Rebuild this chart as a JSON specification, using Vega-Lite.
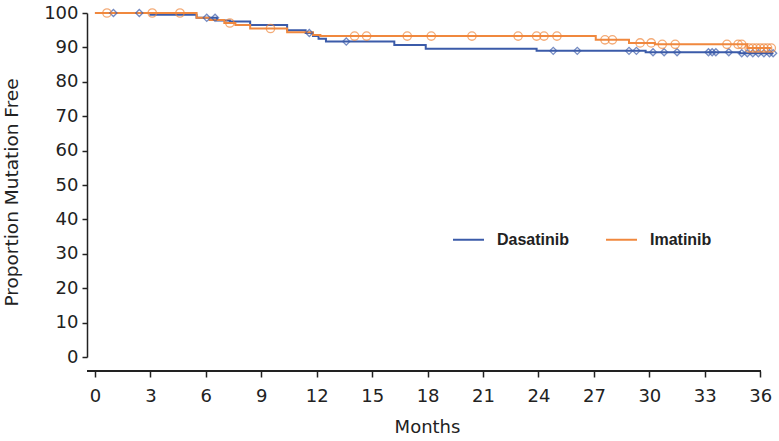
{
  "$schema": "https://vega.github.io/schema/vega-lite/v6.json",
  "width": 688,
  "height": 344,
  "autosize": {"type": "none"},
  "padding": {"left": 87, "top": 13, "right": 4, "bottom": 84},
  "background": "white",
  "config": {
    "view": {"stroke": null},
    "font": "DejaVu Sans",
    "axis": {"domainColor": "#222", "tickColor": "#222", "domainWidth": 1.5, "tickWidth": 1.5, "labelColor": "#222", "titleColor": "#222", "grid": false, "labelFont": "DejaVu Sans", "titleFont": "DejaVu Sans", "titleFontWeight": "normal", "labelFontSize": 18, "titleFontSize": 18, "labelOverlap": false}
  },
  "data": {
    "values": [
      {"g": "Dasatinib", "t": 0, "s": 100, "c": 0},
      {"g": "Dasatinib", "t": 1.0, "s": 100, "c": 1},
      {"g": "Dasatinib", "t": 2.4, "s": 100, "c": 1},
      {"g": "Dasatinib", "t": 3.0, "s": 99.5, "c": 0},
      {"g": "Dasatinib", "t": 5.5, "s": 98.6, "c": 0},
      {"g": "Dasatinib", "t": 6.05, "s": 98.6, "c": 1},
      {"g": "Dasatinib", "t": 6.5, "s": 98.6, "c": 1},
      {"g": "Dasatinib", "t": 6.6, "s": 97.8, "c": 0},
      {"g": "Dasatinib", "t": 7.3, "s": 97.5, "c": 0},
      {"g": "Dasatinib", "t": 8.4, "s": 96.5, "c": 0},
      {"g": "Dasatinib", "t": 10.4, "s": 95.0, "c": 0},
      {"g": "Dasatinib", "t": 11.4, "s": 94.2, "c": 0},
      {"g": "Dasatinib", "t": 11.6, "s": 94.2, "c": 1},
      {"g": "Dasatinib", "t": 11.8, "s": 93.3, "c": 0},
      {"g": "Dasatinib", "t": 12.1, "s": 92.5, "c": 0},
      {"g": "Dasatinib", "t": 12.5, "s": 91.7, "c": 0},
      {"g": "Dasatinib", "t": 13.6, "s": 91.7, "c": 1},
      {"g": "Dasatinib", "t": 16.2, "s": 90.7, "c": 0},
      {"g": "Dasatinib", "t": 17.9, "s": 89.6, "c": 0},
      {"g": "Dasatinib", "t": 23.9, "s": 89.0, "c": 0},
      {"g": "Dasatinib", "t": 24.8, "s": 89.0, "c": 1},
      {"g": "Dasatinib", "t": 26.1, "s": 89.0, "c": 1},
      {"g": "Dasatinib", "t": 28.9, "s": 89.0, "c": 1},
      {"g": "Dasatinib", "t": 29.3, "s": 89.0, "c": 1},
      {"g": "Dasatinib", "t": 29.8, "s": 88.6, "c": 0},
      {"g": "Dasatinib", "t": 30.2, "s": 88.6, "c": 1},
      {"g": "Dasatinib", "t": 30.8, "s": 88.6, "c": 1},
      {"g": "Dasatinib", "t": 31.5, "s": 88.6, "c": 1},
      {"g": "Dasatinib", "t": 33.2, "s": 88.6, "c": 1},
      {"g": "Dasatinib", "t": 33.4, "s": 88.6, "c": 1},
      {"g": "Dasatinib", "t": 33.6, "s": 88.6, "c": 1},
      {"g": "Dasatinib", "t": 34.3, "s": 88.6, "c": 1},
      {"g": "Dasatinib", "t": 34.9, "s": 88.3, "c": 0},
      {"g": "Dasatinib", "t": 35.0, "s": 88.3, "c": 1},
      {"g": "Dasatinib", "t": 35.3, "s": 88.3, "c": 1},
      {"g": "Dasatinib", "t": 35.6, "s": 88.3, "c": 1},
      {"g": "Dasatinib", "t": 35.9, "s": 88.3, "c": 1},
      {"g": "Dasatinib", "t": 36.2, "s": 88.3, "c": 1},
      {"g": "Dasatinib", "t": 36.5, "s": 88.3, "c": 1},
      {"g": "Dasatinib", "t": 36.7, "s": 88.3, "c": 1},
      {"g": "Imatinib", "t": 0, "s": 100, "c": 0},
      {"g": "Imatinib", "t": 0.65, "s": 100, "c": 1},
      {"g": "Imatinib", "t": 3.1, "s": 100, "c": 1},
      {"g": "Imatinib", "t": 4.6, "s": 100, "c": 1},
      {"g": "Imatinib", "t": 5.5, "s": 98.6, "c": 0},
      {"g": "Imatinib", "t": 6.2, "s": 98.0, "c": 0},
      {"g": "Imatinib", "t": 7.0, "s": 97.1, "c": 0},
      {"g": "Imatinib", "t": 7.3, "s": 97.1, "c": 1},
      {"g": "Imatinib", "t": 7.6, "s": 96.5, "c": 0},
      {"g": "Imatinib", "t": 8.4, "s": 95.5, "c": 0},
      {"g": "Imatinib", "t": 9.5, "s": 95.5, "c": 1},
      {"g": "Imatinib", "t": 10.4, "s": 94.4, "c": 0},
      {"g": "Imatinib", "t": 11.8, "s": 93.6, "c": 0},
      {"g": "Imatinib", "t": 12.2, "s": 93.3, "c": 0},
      {"g": "Imatinib", "t": 14.05, "s": 93.3, "c": 1},
      {"g": "Imatinib", "t": 14.7, "s": 93.3, "c": 1},
      {"g": "Imatinib", "t": 16.9, "s": 93.3, "c": 1},
      {"g": "Imatinib", "t": 18.2, "s": 93.3, "c": 1},
      {"g": "Imatinib", "t": 20.4, "s": 93.3, "c": 1},
      {"g": "Imatinib", "t": 22.9, "s": 93.3, "c": 1},
      {"g": "Imatinib", "t": 23.9, "s": 93.3, "c": 1},
      {"g": "Imatinib", "t": 24.3, "s": 93.3, "c": 1},
      {"g": "Imatinib", "t": 25.0, "s": 93.3, "c": 1},
      {"g": "Imatinib", "t": 27.1, "s": 92.2, "c": 0},
      {"g": "Imatinib", "t": 27.6, "s": 92.2, "c": 1},
      {"g": "Imatinib", "t": 28.0, "s": 92.2, "c": 1},
      {"g": "Imatinib", "t": 28.9, "s": 91.3, "c": 0},
      {"g": "Imatinib", "t": 29.5, "s": 91.3, "c": 1},
      {"g": "Imatinib", "t": 30.1, "s": 91.3, "c": 1},
      {"g": "Imatinib", "t": 30.3, "s": 90.9, "c": 0},
      {"g": "Imatinib", "t": 30.7, "s": 90.9, "c": 1},
      {"g": "Imatinib", "t": 31.4, "s": 90.9, "c": 1},
      {"g": "Imatinib", "t": 34.2, "s": 90.9, "c": 1},
      {"g": "Imatinib", "t": 34.8, "s": 90.9, "c": 1},
      {"g": "Imatinib", "t": 35.0, "s": 90.9, "c": 1},
      {"g": "Imatinib", "t": 35.3, "s": 89.8, "c": 0},
      {"g": "Imatinib", "t": 35.4, "s": 89.8, "c": 1},
      {"g": "Imatinib", "t": 35.6, "s": 89.8, "c": 1},
      {"g": "Imatinib", "t": 35.8, "s": 89.8, "c": 1},
      {"g": "Imatinib", "t": 36.0, "s": 89.8, "c": 1},
      {"g": "Imatinib", "t": 36.2, "s": 89.8, "c": 1},
      {"g": "Imatinib", "t": 36.4, "s": 89.8, "c": 1},
      {"g": "Imatinib", "t": 36.6, "s": 89.8, "c": 1}
    ]
  },
  "layer": [
    {
      "mark": {"type": "line", "interpolate": "step-after", "strokeWidth": 2},
      "encoding": {
        "x": {
          "field": "t", "type": "quantitative",
          "scale": {"domain": [-0.43, 36.8], "nice": false, "zero": false},
          "axis": {"values": [0,3,6,9,12,15,18,21,24,27,30,33,36], "title": "Months", "domain": false, "offset": 14, "tickSize": 6, "labelPadding": 10, "titleX": 340, "titleY": 47, "titleBaseline": "top"}
        },
        "y": {
          "field": "s", "type": "quantitative",
          "scale": {"domain": [0, 100], "nice": false},
          "axis": {"values": [0,10,20,30,40,50,60,70,80,90,100], "tickCount": 11, "title": "Proportion Mutation Free", "titleFont": "DejaVu Sans", "titleFontSize": 18.5, "tickSize": 5, "labelPadding": 4, "titleX": -66, "titleY": 179, "titleAlign": "center", "titleAngle": 270}
        },
        "color": {
          "field": "g", "type": "nominal",
          "scale": {"domain": ["Dasatinib", "Imatinib"], "range": ["#3b5ba9", "#f0883e"]},
          "legend": {"title": null, "orient": "none", "legendX": 365, "legendY": 210, "direction": "horizontal", "symbolType": "stroke", "symbolSize": 961, "symbolStrokeWidth": 2, "labelFont": "Liberation Sans", "labelFontWeight": "bold", "labelFontSize": 16, "labelColor": "#222", "labelOffset": 12, "columnPadding": 32}
        },
        "order": {"field": "t", "type": "quantitative"}
      }
    },
    {
      "transform": [{"filter": "datum.c == 1 && datum.g == 'Dasatinib'"}],
      "mark": {"type": "point", "shape": "diamond", "filled": false, "color": "#3b5ba9", "size": 50, "strokeWidth": 1.3},
      "encoding": {
        "x": {"field": "t", "type": "quantitative"},
        "y": {"field": "s", "type": "quantitative"}
      }
    },
    {
      "transform": [{"filter": "datum.c == 1 && datum.g == 'Imatinib'"}],
      "mark": {"type": "point", "shape": "circle", "filled": false, "color": "#f0883e", "size": 70, "strokeWidth": 1.3},
      "encoding": {
        "x": {"field": "t", "type": "quantitative"},
        "y": {"field": "s", "type": "quantitative"}
      }
    },
    {
      "mark": {"type": "rule", "color": "#222", "strokeWidth": 1.5},
      "encoding": {
        "x": {"datum": -0.43, "type": "quantitative"},
        "x2": {"datum": 36},
        "y": {"datum": -4, "type": "quantitative"}
      }
    }
  ]
}
